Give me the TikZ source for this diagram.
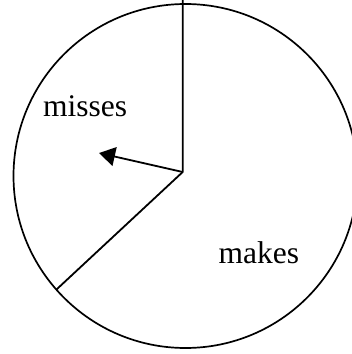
\documentclass[tikz,border=0pt]{standalone}
\usepackage{fontspec}
\setmainfont{Liberation Serif}
\usetikzlibrary{arrows.meta}

\begin{document}
\begin{tikzpicture}[
        x=0.5pt,y=-0.5pt,
        rim/.style={draw=black,line width=0.85pt},
        spoke/.style={draw=black,line width=0.9pt},
        arr/.style={-{Triangle[length=8pt,width=9.5pt]},line width=0.9pt},
        lab/.style={inner sep=0pt,anchor=base west,
                    font=\fontsize{15.75}{18}\selectfont}
      ]
        \useasboundingbox (0,0) rectangle (352,354);
        \clip (0,0) rectangle (352,354);
        \coordinate (centre) at (185.5,176);
        \coordinate (hub) at (182.7,172);
        \coordinate (top) at (182.7,0);
        \coordinate (edge) at (56.7,289.3);
        \coordinate (tip) at (99,153);

        \draw[rim] (centre) circle[radius=172];
        \draw[spoke] (top)--(hub)--(edge);
        \draw[arr] (hub)--(tip);

        \node[lab] (misses) at (42.7,116) {misses};
        \node[lab] (makes) at (218.3,263) {makes};
      \end{tikzpicture}
\end{document}
